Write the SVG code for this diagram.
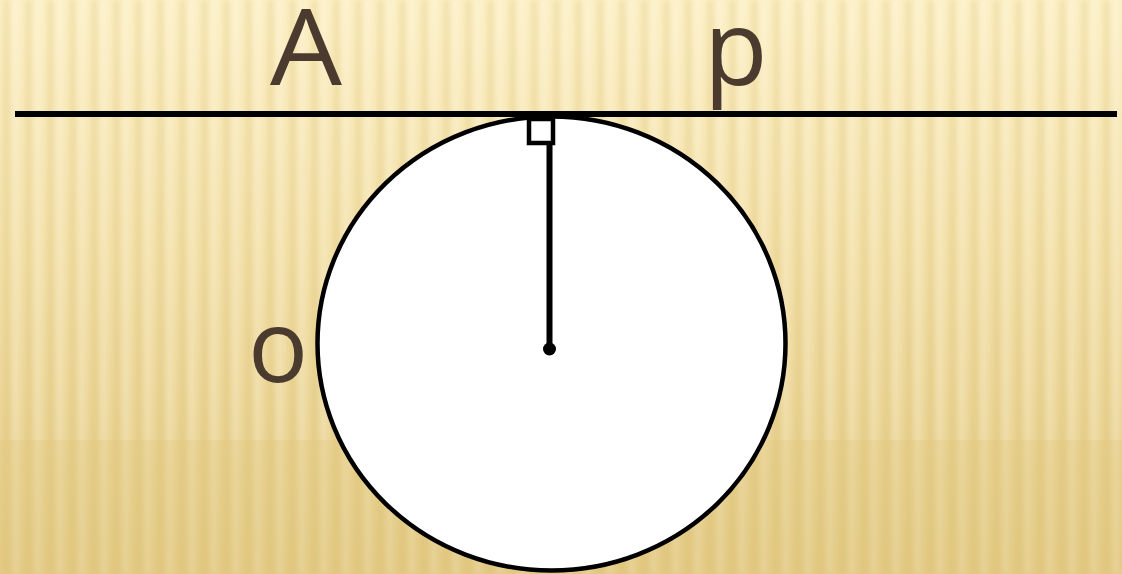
<svg xmlns="http://www.w3.org/2000/svg" width="1122" height="574" viewBox="0 0 1122 574">
<defs>
<linearGradient id="bg" x1="0" y1="0" x2="0" y2="1">
<stop offset="0" stop-color="#fcefc4"/>
<stop offset="0.45" stop-color="#f3e0a8"/>
<stop offset="1" stop-color="#e4cc88"/>
</linearGradient>
<pattern id="stripes" x="0" y="0" width="22" height="574" patternUnits="userSpaceOnUse">
<rect x="3" y="0" width="7" height="574" fill="#c9a84a" opacity="0.16"/>
<rect x="13" y="0" width="6" height="574" fill="#ffffff" opacity="0.2"/>
</pattern>
<filter id="blur" x="-5%" y="-200%" width="110%" height="500%">
<feGaussianBlur stdDeviation="3"/>
</filter>
<filter id="soft"><feGaussianBlur stdDeviation="2.2"/></filter>
<style>
.lbl{font-family:"Open Sans","Liberation Sans",sans-serif;fill:#4b3b2f}
.ln{stroke:#000;fill:none}
</style>
</defs>
<rect width="1122" height="574" fill="url(#bg)"/>
<rect width="1122" height="574" fill="url(#stripes)" filter="url(#soft)"/>
<rect y="440" width="1122" height="134" fill="#e0c67e" opacity="0.3"/>
<g id="connectors">
<line x1="15" y1="121" x2="1117" y2="121" stroke="#6b5a30" stroke-width="6" opacity="0.35" filter="url(#blur)"/>
<line class="ln" x1="15" y1="114" x2="1117" y2="114" stroke-width="6"/>
</g>
<g id="circle">
<ellipse cx="551.5" cy="343.5" rx="234" ry="227" fill="#fff" stroke="#000" stroke-width="4.5"/>
</g>
<g id="radius">
<line class="ln" x1="549.5" y1="143" x2="549.5" y2="349" stroke-width="6"/>
<rect x="529" y="119" width="24" height="24" fill="#fff" stroke="#000" stroke-width="4.5"/>
<circle cx="549.5" cy="349" r="6.5" fill="#000"/>
</g>
<g id="labels">
<text class="lbl" x="270" y="85" font-size="106" textLength="72" lengthAdjust="spacingAndGlyphs">A</text>
<text class="lbl" x="704" y="85" font-size="104">p</text>
<text class="lbl" x="248" y="382" font-size="100">o</text>
</g>
</svg>
